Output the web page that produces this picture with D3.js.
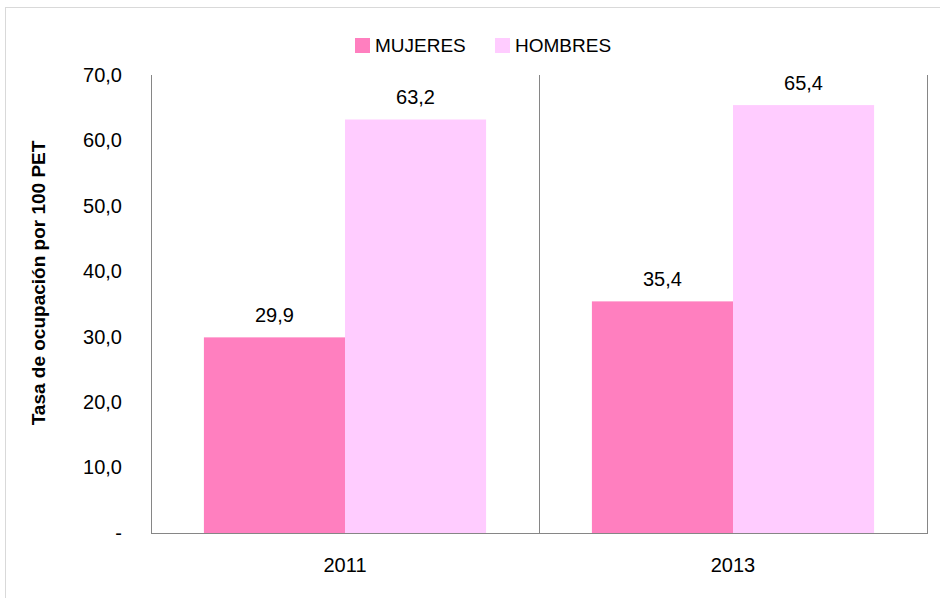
<!DOCTYPE html>
<html><head><meta charset="utf-8">
<script src="https://cdn.jsdelivr.net/npm/d3@7/dist/d3.min.js"></script>
<style>
html,body{margin:0;padding:0;background:#fff;}
text{font-family:"Liberation Sans",Arial,sans-serif;fill:#000;}
</style></head>
<body><svg id="c" width="940" height="598"></svg>
<script>
const categories = ["2011", "2013"];
const seriesNames = ["MUJERES", "HOMBRES"];
const mujeres = [29.9, 35.4];
const hombres = [63.2, 65.4];
const tickValues = [0, 10, 20, 30, 40, 50, 60, 70];
const colors = ["#FF7FBF", "#FFCCFF"];
const yTitle = "Tasa de ocupación por 100 PET";

const svg = d3.select("#c");
svg.append("rect").attr("x",5.5).attr("y",7.5).attr("width",960).attr("height",620)
  .attr("fill","none").attr("stroke","#d9d9d9").attr("stroke-width",1);

const L=151, R=927, T=75, B=533;
const x = d3.scaleBand().domain(categories).range([L,R]);
const xs = d3.scaleBand().domain(seriesNames).range([0,x.bandwidth()]).paddingInner(0).paddingOuter(0.375);
const y = d3.scaleLinear().domain([0,70]).range([B,T]);
const fmt = v => v===0 ? "-" : d3.format(".1f")(v).replace(".", ",");

const g = svg.append("g");
const data = categories.map((c,i)=>({c, vals:[mujeres[i], hombres[i]]}));
data.forEach(d=>{
  d.vals.forEach((v,j)=>{
    g.append("rect").attr("x",x(d.c)+xs(seriesNames[j])).attr("y",y(v))
      .attr("width",xs.bandwidth()).attr("height",B-y(v)).attr("fill",colors[j]);
    g.append("text").attr("x",x(d.c)+xs(seriesNames[j])+xs.bandwidth()/2).attr("y",y(v)-15)
      .attr("text-anchor","middle").attr("font-size",20).text(fmt(v));
  });
});
const bounds = [L, ...categories.map(c=>x(c)+x.bandwidth())];
bounds.forEach(bx=>{
  g.append("line").attr("x1",Math.round(bx)+0.5).attr("x2",Math.round(bx)+0.5).attr("y1",T).attr("y2",B)
   .attr("stroke","#868686").attr("stroke-width",1);
});
g.append("line").attr("x1",L).attr("x2",R+1).attr("y1",B+0.5).attr("y2",B+0.5).attr("stroke","#868686");

const yAxis = d3.axisLeft(y).tickValues(tickValues).tickSize(0).tickPadding(29).tickFormat(fmt);
const ya = svg.append("g").attr("transform",`translate(${L},0)`).call(yAxis);
ya.select(".domain").remove();
ya.selectAll("text").attr("font-size",20).style("font-family","Liberation Sans");

const xAxis = d3.axisBottom(x).tickSize(0).tickPadding(25);
const xa = svg.append("g").attr("transform",`translate(0,${B})`).call(xAxis);
xa.select(".domain").remove();
xa.selectAll("text").attr("font-size",20).style("font-family","Liberation Sans");

svg.append("text").attr("transform",`translate(45,283) rotate(-90)`).attr("text-anchor","middle")
  .attr("font-size",19).attr("font-weight","bold").text(yTitle);

const leg = svg.append("g");
const legX = [355, 495];
seriesNames.forEach((n,j)=>{
  leg.append("rect").attr("x",legX[j]).attr("y",38).attr("width",15).attr("height",15).attr("fill",colors[j]);
  leg.append("text").attr("x",legX[j]+20).attr("y",52).attr("font-size",19).text(n);
});
</script></body></html>
